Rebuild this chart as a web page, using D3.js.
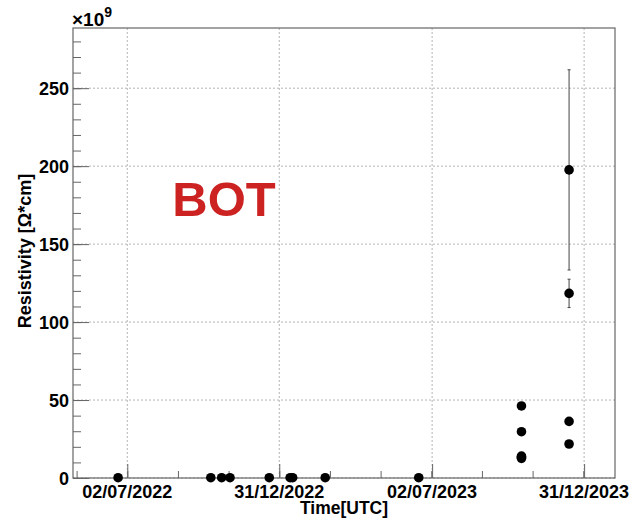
<!DOCTYPE html>
<html>
<head>
<meta charset="utf-8">
<script src="https://cdn.jsdelivr.net/npm/d3@7"></script>
<style>
  body { margin: 0; background: #fff; }
  svg { display: block; }
  text { font-family: "Liberation Sans", Arial, Helvetica, sans-serif; font-weight: bold; }
</style>
</head>
<body>
<svg id="chart" width="630" height="519"></svg>
<script>
// ---- data ----
const dates = ["2022-06-21","2022-10-10","2022-10-23","2022-11-02","2022-12-19","2023-01-13","2023-01-16","2023-02-24","2023-06-16",
               "2023-10-17","2023-10-17","2023-10-17","2023-10-17","2023-10-17",
               "2023-12-13","2023-12-13","2023-12-13","2023-12-13"];
const values = [0.2,0.2,0.2,0.2,0.2,0.2,0.2,0.2,0.2,
                46.2,29.7,14.0,12.6,13.3,
                197.6,118.4,36.3,21.8];
const errors = [0,0,0,0,0,0,0,0,0,
                0,0,0,0,0,
                64.2,9.1,0,0];
const xTickDates = ["2022-07-02","2022-12-31","2023-07-02","2023-12-31"];
const xTickLabels = ["02/07/2022","31/12/2022","02/07/2023","31/12/2023"];
const yTicks = [0,50,100,150,200,250];
const xDomain = ["2022-04-28","2024-02-06"];
const yDomain = [0, 288.6];

// ---- layout ----
const L = 73, R = 615, T = 28, B = 478;
const svg = d3.select("#chart");
const parse = d3.utcParse("%Y-%m-%d");

const x = d3.scaleUtc().domain(xDomain.map(parse)).range([L, R]);
const y = d3.scaleLinear().domain(yDomain).range([B, T]);

// grid
const grid = svg.append("g");
xTickDates.forEach(d => {
  grid.append("line").attr("x1", x(parse(d))).attr("x2", x(parse(d)))
    .attr("y1", T).attr("y2", B)
    .attr("stroke", "#b4b4b4").attr("stroke-width", 1).attr("stroke-dasharray", "2,2");
});
yTicks.forEach(v => {
  grid.append("line").attr("x1", L).attr("x2", R)
    .attr("y1", y(v)).attr("y2", y(v))
    .attr("stroke", "#b4b4b4").attr("stroke-width", 1).attr("stroke-dasharray", "2,2");
});

// y axis ticks (inside)
const yMinor = d3.range(0, yDomain[1], 10);
const yAxisMinor = d3.axisRight(y).tickValues(yMinor).tickSize(8).tickFormat("");
const yAxisMajor = d3.axisRight(y).tickValues(yTicks).tickSize(16).tickFormat("");
[yAxisMinor, yAxisMajor].forEach(ax => {
  const g = svg.append("g").attr("transform", `translate(${L},0)`).call(ax);
  g.select(".domain").remove();
  g.selectAll("line").attr("stroke", "#666");
});
// y labels
yTicks.forEach(v => {
  svg.append("text").attr("x", 69).attr("y", y(v) + 6.5)
    .attr("text-anchor", "end").attr("font-size", 18).attr("fill", "#000").text(v);
});

// x axis ticks (inside, pointing up)
const t0 = parse(xTickDates[0]).getTime(), t1 = parse(xTickDates[1]).getTime();
const step = (t1 - t0) / 3;
const xMinor = [];
for (let t = t0; t <= x.domain()[1].getTime(); t += step) xMinor.push(new Date(t));
for (let t = t0 - step; t >= x.domain()[0].getTime(); t -= step) xMinor.push(new Date(t));
const xMajorD = xTickDates.map(parse);
const xAxisMinor = d3.axisTop(x).tickValues(xMinor).tickSize(7).tickFormat("");
const xAxisMajor = d3.axisTop(x).tickValues(xMajorD).tickSize(14).tickFormat("");
[xAxisMinor, xAxisMajor].forEach(ax => {
  const g = svg.append("g").attr("transform", `translate(0,${B})`).call(ax);
  g.select(".domain").remove();
  g.selectAll("line").attr("stroke", "#666");
});
xTickDates.forEach((d, i) => {
  svg.append("text").attr("x", x(parse(d))).attr("y", 498)
    .attr("text-anchor", "middle").attr("font-size", 18).attr("fill", "#000").text(xTickLabels[i]);
});

// frame
svg.append("rect").attr("x", L).attr("y", T).attr("width", R - L).attr("height", B - T)
  .attr("fill", "none").attr("stroke", "#666").attr("stroke-width", 1.2);

// titles
svg.append("text").attr("x", (L + R) / 2).attr("y", 514).attr("text-anchor", "middle")
  .attr("font-size", 17.5).attr("fill", "#000").text("Time[UTC]");
svg.append("text").attr("transform", "translate(31,251) rotate(-90)").attr("text-anchor", "middle")
  .attr("font-size", 18).attr("fill", "#000").text("Resistivity [Ω*cm]");
const ex = svg.append("text").attr("x", 72).attr("y", 26).attr("font-size", 19).attr("fill", "#000");
ex.append("tspan").text("×10");
ex.append("tspan").attr("dy", -9).attr("font-size", 14).text("9");

// BOT label
svg.append("text").attr("x", 224).attr("y", 216).attr("text-anchor", "middle")
  .attr("font-size", 49).attr("fill", "#cc2222").text("BOT");

// error bars
const pts = dates.map((d, i) => ({ t: parse(d), v: values[i], e: errors[i] }));
const eb = svg.append("g").attr("stroke", "#444").attr("stroke-width", 1);
pts.filter(p => p.e > 0).forEach(p => {
  const cx = x(p.t);
  eb.append("line").attr("x1", cx).attr("x2", cx).attr("y1", y(p.v + p.e)).attr("y2", y(p.v - p.e));
  eb.append("line").attr("x1", cx - 1.5).attr("x2", cx + 1.5).attr("y1", y(p.v + p.e)).attr("y2", y(p.v + p.e));
  eb.append("line").attr("x1", cx - 1.5).attr("x2", cx + 1.5).attr("y1", y(p.v - p.e)).attr("y2", y(p.v - p.e));
});

// points
svg.append("g").selectAll("circle").data(pts).join("circle")
  .attr("cx", p => x(p.t)).attr("cy", p => y(p.v)).attr("r", 4.8).attr("fill", "#000");
</script>
</body>
</html>
